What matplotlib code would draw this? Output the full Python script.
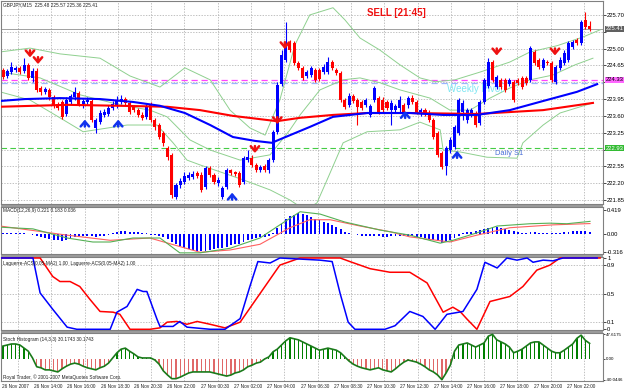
import numpy as np
import matplotlib.pyplot as plt
from matplotlib.patches import Rectangle
from matplotlib.transforms import blended_transform_factory as blend

plt.rcParams['font.family'] = ['Liberation Sans', 'DejaVu Sans']

# GBPJPY M15 candles (26-27 Nov 2007), one entry per bar
opens = [224.56, 224.43, 224.51, 224.56, 224.60, 224.54, 224.66, 224.39, 224.54, 224.18,
         224.10, 224.14, 223.99, 223.85, 223.89, 223.64, 223.89, 223.99, 224.08, 223.85,
         223.89, 223.91, 223.35, 223.47, 223.62, 223.64, 223.76, 223.81, 223.89, 223.95,
         223.87, 223.79, 223.72, 223.62, 223.58, 223.83, 223.51, 223.41, 223.24, 222.93,
         222.79, 221.91, 222.16, 222.22, 222.31, 222.33, 222.41, 222.37, 222.12, 222.52,
         222.37, 222.20, 221.91, 222.12, 222.47, 222.43, 222.41, 222.22, 222.68, 222.72,
         222.58, 222.47, 222.56, 222.47, 222.68, 223.27, 224.26, 224.76, 225.14, 225.12,
         224.70, 224.60, 224.43, 224.45, 224.56, 224.56, 224.51, 224.51, 224.72, 224.56,
         224.49, 223.93, 223.83, 224.01, 223.93, 223.89, 223.83, 223.62, 223.93, 223.97,
         223.93, 223.89, 223.72, 223.72, 223.76, 223.83, 223.83, 223.97, 223.89, 223.68,
         223.72, 223.66, 223.51, 223.24, 222.83, 222.56, 222.89, 222.95, 223.24, 223.68,
         223.51, 223.62, 223.66, 223.45, 223.89, 224.22, 224.72, 224.20, 224.35, 224.35,
         224.26, 224.31, 224.35, 224.39, 224.39, 224.35, 224.93, 224.76, 224.60, 224.72,
         224.70, 224.31, 224.60, 224.70, 224.76, 225.03, 225.18, 225.12, 225.60, 225.48]
highs = [224.60, 224.58, 224.72, 224.64, 224.64, 224.80, 224.70, 224.60, 224.60, 224.22,
         224.20, 224.18, 224.04, 223.89, 223.93, 223.99, 224.06, 224.20, 224.12, 223.95,
         223.99, 223.95, 223.56, 223.72, 223.74, 223.83, 223.91, 224.01, 224.04, 223.99,
         223.91, 223.83, 223.76, 223.68, 223.85, 223.89, 223.56, 223.45, 223.29, 222.97,
         222.83, 222.20, 222.31, 222.43, 222.43, 222.45, 222.45, 222.43, 222.56, 222.56,
         222.41, 222.33, 222.14, 222.52, 222.50, 222.45, 222.45, 222.77, 222.89, 222.79,
         222.62, 222.58, 222.60, 222.72, 223.31, 224.31, 224.97, 225.55, 225.18, 225.16,
         224.74, 224.64, 224.56, 224.64, 224.60, 224.60, 224.68, 224.83, 224.76, 224.60,
         224.54, 223.97, 224.08, 224.06, 223.97, 223.93, 223.97, 223.85, 224.22, 224.01,
         223.99, 223.93, 223.93, 223.85, 224.01, 223.87, 224.01, 224.04, 223.93, 223.76,
         223.76, 223.72, 223.56, 223.29, 222.87, 222.97, 223.16, 223.41, 223.97, 223.93,
         223.76, 223.76, 223.70, 223.93, 224.39, 224.80, 224.76, 224.45, 224.39, 224.39,
         224.39, 224.35, 224.39, 224.43, 224.43, 225.06, 224.97, 224.80, 224.80, 224.76,
         224.74, 224.66, 224.83, 224.97, 225.16, 225.18, 225.22, 225.60, 225.76, 225.57]
lows = [224.37, 224.39, 224.47, 224.51, 224.47, 224.49, 224.35, 224.31, 224.10, 224.04,
        224.06, 223.93, 223.76, 223.72, 223.54, 223.60, 223.85, 223.93, 223.81, 223.76,
        223.85, 223.47, 223.24, 223.43, 223.58, 223.60, 223.72, 223.76, 223.85, 223.83,
        223.64, 223.68, 223.58, 223.51, 223.54, 223.47, 223.31, 223.12, 222.97, 222.68,
        221.89, 221.87, 222.10, 222.18, 222.27, 222.29, 222.31, 222.02, 222.08, 222.33,
        222.18, 222.14, 221.87, 222.08, 222.37, 222.35, 222.12, 222.18, 222.64, 222.54,
        222.43, 222.43, 222.43, 222.41, 222.64, 223.22, 224.22, 224.72, 224.93, 224.66,
        224.56, 224.35, 224.39, 224.41, 224.31, 224.33, 224.47, 224.47, 224.56, 224.45,
        223.89, 223.74, 223.79, 223.87, 223.41, 223.72, 223.79, 223.58, 223.89, 223.64,
        223.68, 223.72, 223.41, 223.68, 223.68, 223.64, 223.76, 223.85, 223.64, 223.60,
        223.60, 223.47, 223.12, 222.74, 222.50, 222.37, 222.83, 222.91, 223.20, 223.51,
        223.45, 223.58, 223.37, 223.41, 223.85, 224.18, 224.31, 224.16, 224.16, 224.10,
        224.22, 223.89, 224.24, 224.16, 224.24, 224.31, 224.66, 224.58, 224.56, 224.66,
        224.31, 224.26, 224.56, 224.66, 224.72, 224.99, 225.08, 225.08, 225.41, 225.36]
closes = [224.41, 224.54, 224.62, 224.60, 224.51, 224.66, 224.39, 224.54, 224.14, 224.10,
          224.16, 223.99, 223.83, 223.76, 223.58, 223.93, 224.01, 224.10, 223.85, 223.91,
          223.93, 223.51, 223.51, 223.66, 223.68, 223.76, 223.85, 223.93, 223.95, 223.87,
          223.68, 223.72, 223.62, 223.56, 223.79, 223.51, 223.37, 223.16, 223.04, 222.74,
          221.95, 222.16, 222.25, 222.35, 222.37, 222.39, 222.35, 222.06, 222.52, 222.37,
          222.22, 222.27, 222.10, 222.47, 222.41, 222.39, 222.16, 222.72, 222.74, 222.58,
          222.47, 222.54, 222.47, 222.68, 223.27, 224.24, 224.87, 225.14, 224.97, 224.70,
          224.60, 224.39, 224.51, 224.60, 224.35, 224.37, 224.62, 224.72, 224.60, 224.49,
          223.93, 223.79, 224.01, 223.91, 223.79, 223.76, 223.93, 223.81, 224.18, 223.68,
          223.72, 223.76, 223.87, 223.81, 223.93, 223.68, 223.97, 223.89, 223.68, 223.72,
          223.64, 223.51, 223.16, 222.79, 222.54, 222.93, 223.10, 223.37, 223.93, 223.87,
          223.72, 223.72, 223.41, 223.89, 224.35, 224.72, 224.35, 224.41, 224.20, 224.14,
          224.35, 223.93, 224.29, 224.20, 224.29, 225.01, 224.70, 224.62, 224.76, 224.70,
          224.35, 224.62, 224.76, 224.91, 225.12, 225.14, 225.12, 225.55, 225.45, 225.41]

# moving averages (bar index, price)
ma_blue_x = [-0.7, 5.2, 13.5, 23, 30.8, 37.2, 43.1, 49.1, 54.5, 59.7, 63.7, 66.4, 72.7,
             78.2, 86.3, 96.4, 104.3, 112.3, 120.1, 128, 136, 140.8]
ma_blue_y = [223.91, 223.95, 223.97, 223.95, 223.89, 223.81, 223.66, 223.41, 223.16, 223.08,
             223.04, 223.14, 223.37, 223.58, 223.66, 223.66, 223.62, 223.62, 223.72, 223.91,
             224.10, 224.26]
ma_red_x = [-0.7, 15.2, 27.7, 38.9, 46.7, 54.5, 64.9, 70.4, 78.2, 86.3, 96.4, 112.3, 128, 139.8]
ma_red_y = [223.79, 223.83, 223.81, 223.79, 223.72, 223.60, 223.49, 223.56, 223.62, 223.66,
            223.66, 223.64, 223.72, 223.87]

# bollinger bands (bar index, price)
bb_up_x = [-0.7, 6.4, 13.5, 23, 30.1, 37.2, 43.1, 49.1, 53.8, 58.5, 62.1, 65.6, 69.2, 72.7,
           78.2, 81, 84.6, 89.3, 94.1, 98.8, 102.4, 107.1, 113, 120.1, 124.9, 131.3, 137.4, 141.5]
bb_up_y = [224.93, 225.01, 224.89, 224.80, 224.43, 224.20, 224.60, 224.35, 223.72, 223.35,
           223.20, 223.93, 225.08, 225.70, 225.85, 225.60, 225.22, 224.97, 224.66, 224.39,
           224.31, 224.35, 224.51, 224.72, 224.93, 225.06, 225.24, 225.39]
bb_mid_x = [-0.7, 8.8, 18.2, 27.7, 34.8, 38.9, 44.3, 49.1, 56.2, 63.3, 68, 70.4, 75.1, 80.6,
            84.6, 89.3, 94.1, 101.2, 105.9, 110.7, 115.4, 120.1, 124.9, 130.3, 135.5, 139.8]
bb_mid_y = [224.51, 224.39, 224.04, 223.83, 223.72, 223.58, 223.10, 222.89, 222.68, 222.79,
            223.31, 223.62, 224.14, 224.35, 224.39, 224.29, 224.14, 223.97, 223.72, 223.72,
            223.97, 224.18, 224.35, 224.45, 224.66, 224.80]
bb_low_x = [-0.7, 6.4, 13.5, 19, 29.4, 36.5, 40.3, 43.6, 46.7, 56.9, 63.3, 68, 71.6, 74.4,
            76.8, 80.6, 86.3, 94.1, 98.8, 103.6, 104.3, 108.3, 114.7, 121.8, 123.2, 128, 132, 139.8]
bb_low_y = [224.10, 223.93, 223.56, 223.27, 223.41, 223.41, 223.04, 222.68, 222.58, 222.27,
            222.06, 221.85, 221.64, 221.79, 222.27, 223.04, 223.27, 223.31, 223.47, 223.31,
            222.89, 222.85, 222.74, 222.72, 223.04, 223.41, 223.66, 223.87]

# signal arrows (bar index, tip price)
sell_x = [6.4, 8.3, 59.7, 65.0, 66.8, 117.0, 130.8]
sell_y = [224.76, 224.62, 222.77, 223.37, 224.93, 224.80, 224.80]
buy_x = [19.4, 27.3, 54.3, 95.3, 107.6]
buy_y = [223.58, 223.58, 222.06, 223.76, 222.93]

price_now = 225.41
pivot_magenta = 224.35
pivot_cyan = 224.29
daily_s1 = 222.93
price_ticks = [225.70, 225.35, 225.00, 224.65, 224.30, 223.95, 223.60, 223.25, 222.90,
               222.55, 222.20, 221.85]
price_labels = ['225.70', '', '225.00', '224.65', '', '223.95', '223.60', '223.25', '',
                '222.55', '222.20', '221.85']

# MACD(12,26,9)
macd_hist = [0.01, 0.01, 0.02, 0.02, 0.01, 0.01, 0.0, -0.01, -0.03, -0.05,
             -0.07, -0.08, -0.10, -0.11, -0.12, -0.10, -0.08, -0.05, -0.04, -0.03,
             -0.03, -0.04, -0.05, -0.04, -0.03, -0.02, 0.01, 0.03, 0.05, 0.05,
             0.04, 0.04, 0.03, 0.02, 0.01, -0.01, -0.02, -0.03, -0.05, -0.08,
             -0.14, -0.18, -0.21, -0.24, -0.26, -0.28, -0.29, -0.30, -0.29, -0.28,
             -0.27, -0.25, -0.24, -0.22, -0.20, -0.18, -0.17, -0.14, -0.11, -0.09,
             -0.07, -0.06, -0.05, -0.03, 0.02, 0.10, 0.18, 0.26, 0.31, 0.34,
             0.36, 0.35, 0.33, 0.30, 0.27, 0.24, 0.21, 0.19, 0.16, 0.13,
             0.08, 0.04, 0.02, 0.0, -0.02, -0.03, -0.03, -0.04, -0.03, -0.04,
             -0.05, -0.05, -0.04, -0.04, -0.03, -0.03, -0.03, -0.04, -0.05, -0.06,
             -0.07, -0.08, -0.10, -0.13, -0.15, -0.14, -0.11, -0.07, -0.03, 0.01,
             0.03, 0.04, 0.05, 0.07, 0.09, 0.11, 0.12, 0.12, 0.11, 0.09,
             0.07, 0.05, 0.03, 0.02, 0.02, 0.03, 0.03, 0.02, 0.02, 0.01,
             0.01, 0.01, 0.02, 0.03, 0.04, 0.05, 0.06, 0.06, 0.05, 0.036]
macd_g_x = [-0.7, 7.1, 15.2, 21.3, 25.4, 30.8, 37.2, 41.9, 46.7, 53.8, 60.9, 65.6, 70.4,
            75.1, 81, 89.3, 96.4, 103.6, 106.6, 112.3, 117.1, 124.9, 129.6, 133.6, 139.1]
macd_g_y = [0.12, 0.09, -0.07, -0.14, -0.14, -0.07, -0.07, -0.33, -0.33, -0.25, -0.07, 0.16,
            0.39, 0.35, 0.21, 0.07, -0.02, -0.16, -0.11, 0.02, 0.14, 0.18, 0.19, 0.18, 0.221]
macd_r_x = [-0.7, 15.2, 25.4, 34.8, 46.7, 53.8, 60.9, 68, 72.7, 77.5, 84.6, 91.7, 96.4,
            105.9, 112.3, 120.1, 130.3, 139.1]
macd_r_y = [0.14, -0.02, -0.11, -0.07, -0.32, -0.28, -0.18, 0.11, 0.25, 0.25, 0.14, 0.04,
            -0.05, -0.14, -0.02, 0.11, 0.16, 0.183]

# Laguerre-ACS
lag_b_x = [-0.7, 6.4, 7.1, 8.8, 11.8, 15.2, 17.5, 25.4, 27, 29.4, 31.8, 33.2, 34.1, 36.5,
           37.2, 40.3, 41.9, 43.6, 49.1, 52.6, 56.2, 58.5, 60.4, 63.3, 65.6, 75.1, 78, 79.9,
           81.8, 83.4, 90.5, 92.9, 96.4, 99.5, 102.4, 105.2, 109, 112.3, 114.2, 117.1, 119.4,
           121.8, 124.2, 125.6, 128, 130.3, 132.7, 140.8]
lag_b_y = [1, 1, 1, 0.51, 0.28, 0.03, 0, 0, 0.24, 0.32, 0.56, 0.53, 0.53, 0.14,
           0.04, 0.04, 0.11, 0.03, 0, 0, 0.15, 0.6, 0.95, 0.93, 1.0, 0.97, 0.95, 0.5,
           0.1, 0, 0, 0.05, 0.25, 0.18, 0, 0.21, 0.25, 0.56, 0.94, 0.86, 1.0,
           0.97, 1.0, 0.94, 0.97, 0.96, 1.0, 1.0]
lag_r_x = [-0.7, 8.8, 11.8, 13.5, 15.9, 18.2, 20.6, 23, 26.1, 27.7, 30.1, 34.8, 37.2, 38.9,
           41.2, 43.6, 46, 49.1, 52.6, 56.2, 60.9, 65.6, 70.4, 79.9, 82.2, 87, 91.7, 96.4,
           100.5, 104.3, 106.6, 108.3, 110, 112.3, 115.4, 120.1, 123.2, 126.5, 129.6, 132, 141.5]
lag_r_y = [1, 1, 0.74, 0.67, 0.67, 0.6, 0.42, 0.25, 0.24, 0.21, 0.0, 0, 0.02, 0.1,
           0.11, 0.07, 0.11, 0.07, 0.02, 0.1, 0.5, 0.9, 1.0, 1.0, 0.95, 0.85, 0.8, 0.8,
           0.65, 0.24, 0.31, 0.25, 0.14, 0, 0.39, 0.46, 0.6, 0.83, 0.9, 1.0, 1.0]

# Stoch Histogram (14,3,3)
stoch = [25, 27, 29, 29, 27, 21, 15, 2, -15, -17,
         -21, -21, -23, -25, -19, -14, -10, -8, -10, -14,
         -17, -19, -21, -17, -14, -8, 2, 12, 19, 21,
         15, 10, 4, 2, 2, 2, -2, -10, -23, -31,
         -38, -38, -35, -31, -27, -25, -25, -25, -25, -25,
         -27, -29, -31, -33, -31, -27, -25, -21, -15, -12,
         -8, -6, 0, 4, 14, 19, 27, 35, 41, 39,
         37, 33, 29, 25, 21, 17, 19, 21, 19, 17,
         12, 4, -4, -10, -14, -17, -19, -21, -19, -17,
         -21, -23, -25, -19, -12, -6, -2, -4, -6, -10,
         -15, -21, -25, -31, -40, -27, -12, 15, 27, 29,
         31, 27, 23, 27, 31, 44, 47.6, 37, 33, 29,
         23, 12, 15, 19, 25, 31, 33, 33, 27, 21,
         15, 12, 12, 17, 23, 29, 40, 46, 36, 30.17]

time_labels = ['26 Nov 2007', '26 Nov 14:00', '26 Nov 16:00', '26 Nov 18:30', '26 Nov 20:30',
               '26 Nov 22:00', '27 Nov 00:30', '27 Nov 02:00', '27 Nov 04:00', '27 Nov 06:30',
               '27 Nov 08:30', '27 Nov 10:30', '27 Nov 12:30', '27 Nov 14:00', '27 Nov 16:00',
               '27 Nov 18:00', '27 Nov 20:00', '27 Nov 22:00']

W, H = 625, 391
fig = plt.figure(figsize=(W / 100, H / 100), dpi=100)
fig.patch.set_facecolor('white')


def panel(top, bottom):
    a = fig.add_axes([1 / W, 1 - bottom / H, 602 / W, (bottom - top) / H])
    a.set_xlim(-0.47, 142.18)
    a.set_xticks([])
    a.yaxis.tick_right()
    a.tick_params(axis='y', length=2, width=0.5, pad=1, labelsize=4.2, colors='black')
    for s in a.spines.values():
        s.set_color('#808080')
        s.set_linewidth(0.8)
    return a


def ftext(x, y, s, **kw):
    fig.text(x / W, 1 - y / H, s, va='center', **kw)


ax = panel(1, 204)
ax_macd = panel(207, 254)
ax_lag = panel(257, 330)
ax_st = panel(333, 381)

# grey separators between the panels
for top in (204, 254, 330):
    fig.patches.append(Rectangle((1 / W, 1 - (top + 2.5) / H), 602 / W, 2 / H,
                                 transform=fig.transFigure, fc='#9a9a9a', ec='none'))

grid_x = 3.55 + 7.89 * np.arange(18)
for a in (ax, ax_macd, ax_lag, ax_st):
    for gx in grid_x:
        a.axvline(gx, color='#a8a8a8', lw=0.5, ls=(0, (2, 2)), zorder=0)

# main panel
ax.set_ylim(221.767, 225.99)
ax.set_yticks(price_ticks)
ax.set_yticklabels(price_labels)
for p in price_ticks:
    ax.axhline(p, color='#a8a8a8', lw=0.5, ls=(0, (2, 2)), zorder=0)

ax.axhline(price_now, color='#909090', lw=0.6, zorder=1)
ax.axhline(pivot_magenta, color='#ff44ff', lw=0.9, ls=(0, (5, 3)), zorder=1)
ax.axhline(pivot_cyan, color='#9ab4ff', lw=0.9, ls=(0, (5, 3)), zorder=1)
ax.axhline(daily_s1, color='#44cc44', lw=0.8, ls=(0, (5, 3)), zorder=1)

for bx, by in ((bb_up_x, bb_up_y), (bb_mid_x, bb_mid_y), (bb_low_x, bb_low_y)):
    ax.plot(bx, by, color='#8fd08f', lw=0.7, zorder=1)

xb = np.arange(len(opens))
o = np.array(opens)
c = np.array(closes)
col = np.where(c >= o, '#0000ff', '#ff0000')
ax.vlines(xb, lows, highs, colors=col, lw=0.8, zorder=2)
ax.bar(xb, np.maximum(np.abs(c - o), 0.012), bottom=np.minimum(o, c), width=0.72,
       color=col, lw=0, zorder=2)

ax.plot(ma_red_x, ma_red_y, color='#ff0000', lw=1.5, zorder=3)
ax.plot(ma_blue_x, ma_blue_y, color='#0000ff', lw=1.5, zorder=3)

for sx, sy in zip(sell_x, sell_y):
    ax.annotate('', xy=(sx, sy), xytext=(0, 9), textcoords='offset points',
                arrowprops=dict(arrowstyle='->,head_length=0.35,head_width=0.3',
                                color='#ee1111', lw=1.8), zorder=4)
for bx_, by_ in zip(buy_x, buy_y):
    ax.annotate('', xy=(bx_, by_), xytext=(0, -9), textcoords='offset points',
                arrowprops=dict(arrowstyle='->,head_length=0.35,head_width=0.3',
                                color='#1133ee', lw=1.8), zorder=4)

tr = blend(ax.transAxes, ax.transData)
ax.text(1.004, price_now, '225.41', transform=tr, fontsize=4.2, va='center', color='white',
        bbox=dict(fc='#606060', ec='none', pad=0.6))
ax.text(1.004, pivot_magenta, '224.33', transform=tr, fontsize=4.2, va='center',
        color='black', bbox=dict(fc='#ff66ff', ec='none', pad=0.6))
ax.text(1.004, daily_s1, '222.93', transform=tr, fontsize=4.2, va='center', color='white',
        bbox=dict(fc='#33bb33', ec='none', pad=0.6))

ax.text(86.2, 225.73, 'SELL [21:45]', color='#ee1111', fontsize=7, fontweight='bold',
        va='center')
ax.text(116.5, 222.82, 'Daily S1', color='#4a6fd8', fontsize=5.4, va='center')
ax.text(105.2, 224.16, 'Weekly Pivot', color='#7fe6f2', fontsize=7, va='center', zorder=1)

ftext(3, 5, 'GBPJPY,M15  225.48 225.57 225.36 225.41', fontsize=3.4, color='#202020')

# MACD panel
ax_macd.set_ylim(-0.35, 0.473)
ax_macd.bar(xb, macd_hist, width=0.45, color='#0000ff', lw=0, zorder=2)
ax_macd.plot(macd_r_x, macd_r_y, color='#ff6060', lw=0.8, zorder=3)
ax_macd.plot(macd_g_x, macd_g_y, color='#55b055', lw=0.8, zorder=3)
ax_macd.set_yticks([0.419, 0.0, -0.316])
ax_macd.set_yticklabels(['0.419', '0.00', '-0.316'])
ftext(3, 211, 'MACD(12,26,9) 0.221 0.183 0.036', fontsize=3.4, color='#202020')

# Laguerre panel
ax_lag.set_ylim(-0.01, 1.014)
ax_lag.plot(lag_r_x, lag_r_y, color='#ff0000', lw=1.1, zorder=3)
ax_lag.plot(lag_b_x, lag_b_y, color='#0000ff', lw=1.1, zorder=3)
for lv in (0.1, 0.5, 0.9):
    ax_lag.axhline(lv, color='#a8a8a8', lw=0.5, ls=(0, (2, 2)), zorder=0)
ax_lag.set_yticks([1, 0.9, 0.5, 0.1, 0])
ax_lag.set_yticklabels(['1', '0.9', '0.5', '0.1', '0'])
ftext(3, 263, 'Laguerre-ACS(0.05-MA2) 1.00  Laguerre-ACS(0.05-MA2) 1.00', fontsize=3.4,
      color='#202020')

# Stoch histogram panel
ax_st.set_ylim(-42.5, 50.2)
st = np.array(stoch)
ax_st.bar(xb, st, width=0.3, color=np.where(st >= 0, '#008000', '#e06868'), lw=0, zorder=2)
ax_st.plot(xb, st, color='#1a7a1a', lw=1.2, zorder=3)
ax_st.set_yticks([47.6175, 0, -40.0446])
ax_st.set_yticklabels(['47.6175', '0.00', '-40.0446'])
ax_st.tick_params(axis='y', labelsize=3.2, length=1.5, pad=0.6)
ftext(3, 339, 'Stoch Histogram (14,3,3) 30.1743 30.1743', fontsize=3.4, color='#202020')
ftext(3, 377, 'Royal Trader, \u00a9 2001-2007 MetaQuotes Software Corp.', fontsize=3.4,
      color='#202020')

trx = blend(ax_st.transData, fig.transFigure)
for k, lab in enumerate(time_labels):
    ax_st.text(2.84 + 7.89 * k, 1 - 386 / H, lab, transform=trx, fontsize=3.4,
               ha='center', va='center', color='#202020')

fig.savefig('out.png', dpi=100)
